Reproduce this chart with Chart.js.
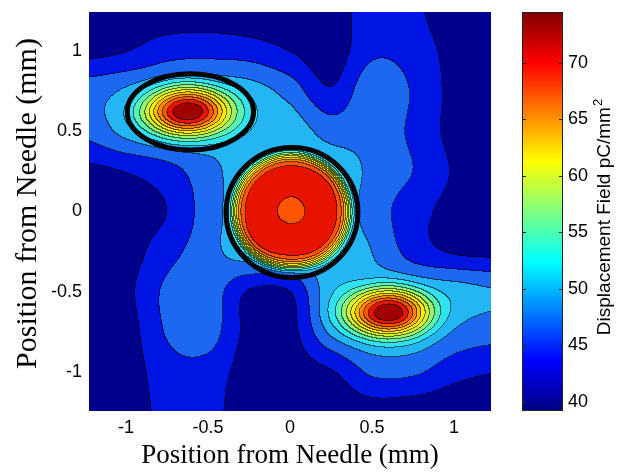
<!DOCTYPE html>
<html>
<head>
<meta charset="utf-8">
<script src="https://cdn.jsdelivr.net/npm/chart.js@4.4.1/dist/chart.umd.min.js"></script>
<style>
  html, body { margin: 0; padding: 0; background: #ffffff; }
  #wrap { position: relative; width: 620px; height: 474px; }
</style>
</head>
<body>
<div id="wrap"><canvas id="field" width="620" height="474"></canvas></div>
<script>
// ---- axis ticks ----
const xTicks = [-1, -0.5, 0, 0.5, 1];
const yTicks = [-1, -0.5, 0, 0.5, 1];
const cbTicks = [40, 45, 50, 55, 60, 65, 70];

// ---- field range on the colour bar (pC/mm^2) ----
const fieldMin = 39.2;
const fieldMax = 74.5;

// ---- contour levels and the fill colour of each band (lowest band first) ----
const levels = [42.5, 45, 47.5, 50, 52.5, 55, 57.5, 60, 62.5, 65, 67.5, 70, 72.5];
const bandColors = [
  '#00008c', '#0014e4', '#1c68f0', '#24b6f4', '#30e2f0', '#58f2b4', '#98f270',
  '#d0f032', '#fcec00', '#ffbc00', '#ff8400', '#ff5400', '#e81400', '#a00000'
];

// ---- background field sampled every 0.25 mm (rows from top to bottom) ----
const gridX = [-1.25, -1, -0.75, -0.5, -0.25, 0, 0.25, 0.5, 0.75, 1, 1.25];
const gridY = [1.25, 1, 0.75, 0.5, 0.25, 0, -0.25, -0.5, -0.75, -1, -1.25];
const background = [
  [40.3, 40.4, 40.6, 40.7, 40.7, 40.8, 40.7, 44.0, 43.2, 40.6, 40.3],
  [41.6, 42.4, 44.0, 44.3, 43.8, 42.5, 41.0, 44.5, 44.0, 41.6, 40.8],
  [46.3, 47.2, 47.0, 47.0, 48.3, 46.5, 42.8, 46.8, 44.8, 41.8, 41.0],
  [45.6, 47.8, 48.0, 48.0, 49.0, 49.0, 46.5, 46.8, 44.5, 41.8, 41.2],
  [41.8, 42.6, 44.0, 46.5, 49.0, 49.0, 49.0, 47.0, 45.0, 42.3, 41.3],
  [40.8, 41.3, 42.5, 46.2, 49.0, 49.0, 49.0, 46.5, 43.5, 41.8, 41.3],
  [40.8, 41.3, 44.0, 46.5, 49.0, 49.0, 49.0, 47.5, 44.0, 42.2, 41.8],
  [40.8, 41.8, 45.5, 46.5, 42.3, 42.5, 48.5, 48.0, 48.0, 48.5, 47.7],
  [40.8, 41.3, 45.2, 46.2, 41.8, 41.6, 47.2, 48.5, 48.5, 46.8, 46.0],
  [40.8, 41.0, 44.0, 44.0, 41.3, 41.3, 42.3, 45.5, 45.5, 43.5, 42.6],
  [40.3, 40.6, 43.5, 43.5, 40.8, 40.6, 40.6, 41.3, 41.0, 40.6, 40.3]
];

// ---- peaks at the needles: centre (mm), height above background, radii, sharpness ----
const peakX     = [-0.62, 0.01, 0.60];
const peakY     = [0.625, 0.0, -0.63];
const peakAmp   = [27.0, 22.8, 26.2];
const peakRx    = [0.255, 0.356, 0.245];
const peakRy    = [0.153, 0.356, 0.147];
const peakPower = [2.3, 11, 2.3];

// ---- dip in the middle of the central peak ----
const dipX = [0.01];
const dipY = [0.0];
const dipDepth = [2.8];
const dipWidth = [0.095];

// ---- needle outlines drawn as heavy rings (centre and semi-axes, mm) ----
const ringX  = [-0.607, 0.012];
const ringY  = [0.622, -0.006];
const ringRx = [0.385, 0.402];
const ringRy = [0.238, 0.406];

// ---------------------------------------------------------------------------
function catmull(p0, p1, p2, p3, t) {
  return 0.5 * ((2 * p1) + (-p0 + p2) * t + (2 * p0 - 5 * p1 + 4 * p2 - p3) * t * t +
    (-p0 + 3 * p1 - 3 * p2 + p3) * t * t * t);
}

function backgroundAt(x, y) {
  const n = gridX.length, m = gridY.length;
  const sx = gridX[1] - gridX[0], sy = gridY[0] - gridY[1];
  const fx = (x - gridX[0]) / sx, fy = (gridY[0] - y) / sy;
  const i = Math.max(0, Math.min(n - 2, Math.floor(fx)));
  const j = Math.max(0, Math.min(m - 2, Math.floor(fy)));
  const tx = fx - i, ty = fy - j;
  const g = (r, c) => background[Math.max(0, Math.min(m - 1, r))][Math.max(0, Math.min(n - 1, c))];
  const rows = [];
  for (let k = -1; k <= 2; k++) {
    rows.push(catmull(g(j + k, i - 1), g(j + k, i), g(j + k, i + 1), g(j + k, i + 2), tx));
  }
  return catmull(rows[0], rows[1], rows[2], rows[3], ty);
}

function fieldAt(x, y) {
  let v = backgroundAt(x, y);
  for (let k = 0; k < peakX.length; k++) {
    const dx = (x - peakX[k]) / peakRx[k], dy = (y - peakY[k]) / peakRy[k];
    const r2 = dx * dx + dy * dy;
    v += peakAmp[k] * Math.exp(-Math.pow(r2, peakPower[k] / 2));
  }
  for (let k = 0; k < dipX.length; k++) {
    const dx = x - dipX[k], dy = y - dipY[k];
    v -= dipDepth[k] * Math.exp(-(dx * dx + dy * dy) / (2 * dipWidth[k] * dipWidth[k]));
  }
  return v;
}

function bandOf(v) {
  let b = 0;
  while (b < levels.length && v >= levels[b]) b++;
  return b;
}

function hexToRgb(h) {
  return [parseInt(h.slice(1, 3), 16), parseInt(h.slice(3, 5), 16), parseInt(h.slice(5, 7), 16)];
}
const bandRgb = bandColors.map(hexToRgb);

function jet(t) {
  const c = v => Math.max(0, Math.min(1, v));
  const r = c(Math.min(4 * t - 1.5, -4 * t + 4.5));
  const g = c(Math.min(4 * t - 0.5, -4 * t + 3.5));
  const b = c(Math.min(4 * t + 0.5, -4 * t + 2.5));
  return `rgb(${Math.round(r * 255)},${Math.round(g * 255)},${Math.round(b * 255)})`;
}

// filled contour bands with thin level lines, then the needle rings
const contourPlugin = {
  id: 'contourFill',
  beforeDatasetsDraw(chart) {
    const { ctx, chartArea: a, scales: { x, y } } = chart;
    const left = Math.round(a.left), top = Math.round(a.top);
    const w = Math.round(a.right) - left, h = Math.round(a.bottom) - top;
    const bands = new Int16Array(w * h);
    const xs = new Float64Array(w);
    for (let i = 0; i < w; i++) xs[i] = x.getValueForPixel(left + i + 0.5);
    for (let j = 0; j < h; j++) {
      const vy = y.getValueForPixel(top + j + 0.5);
      for (let i = 0; i < w; i++) bands[j * w + i] = bandOf(fieldAt(xs[i], vy));
    }
    const off = document.createElement('canvas');
    off.width = w; off.height = h;
    const octx = off.getContext('2d');
    const img = octx.createImageData(w, h);
    const shade = 0.42;
    for (let j = 0; j < h; j++) {
      for (let i = 0; i < w; i++) {
        const k = j * w + i, b = bands[k];
        const rgb = bandRgb[b];
        const edge = (i < w - 1 && bands[k + 1] !== b) || (j < h - 1 && bands[k + w] !== b);
        const f = edge ? shade : 1;
        img.data[k * 4] = rgb[0] * f; img.data[k * 4 + 1] = rgb[1] * f; img.data[k * 4 + 2] = rgb[2] * f;
        img.data[k * 4 + 3] = 255;
      }
    }
    octx.putImageData(img, 0, 0);
    ctx.save();
    ctx.drawImage(off, left, top);
    ctx.lineWidth = 5;
    ctx.strokeStyle = '#000000';
    for (let k = 0; k < ringX.length; k++) {
      const cx = x.getPixelForValue(ringX[k]), cy = y.getPixelForValue(ringY[k]);
      const rx = Math.abs(x.getPixelForValue(ringX[k] + ringRx[k]) - cx);
      const ry = Math.abs(y.getPixelForValue(ringY[k] + ringRy[k]) - cy);
      ctx.beginPath();
      ctx.ellipse(cx, cy, rx, ry, 0, 0, Math.PI * 2);
      ctx.stroke();
    }
    ctx.restore();
  }
};

// colour bar drawn against its own value axis, plus the rotated axis labels
const colorBarPlugin = {
  id: 'colorBar',
  afterDraw(chart) {
    const { ctx, chartArea: a, scales: { cb } } = chart;
    const x0 = a.right + 31, barW = 41;
    const yTop = cb.getPixelForValue(fieldMax), yBot = cb.getPixelForValue(fieldMin);
    ctx.save();
    for (let py = Math.floor(yTop); py < Math.ceil(yBot); py++) {
      const v = cb.getValueForPixel(py + 0.5);
      ctx.fillStyle = jet((v - fieldMin) / (fieldMax - fieldMin));
      ctx.fillRect(x0, py, barW, 1);
    }
    ctx.strokeStyle = '#222222';
    ctx.lineWidth = 1;
    ctx.strokeRect(x0 + 0.5, Math.floor(yTop) + 0.5, barW - 1, Math.ceil(yBot) - Math.floor(yTop) - 1);
    for (const v of cbTicks) {
      const py = Math.round(cb.getPixelForValue(v)) + 0.5;
      ctx.beginPath();
      ctx.moveTo(x0, py); ctx.lineTo(x0 + 4, py);
      ctx.moveTo(x0 + barW - 4, py); ctx.lineTo(x0 + barW, py);
      ctx.stroke();
    }
    ctx.restore();

    // colour bar label, read from bottom to top
    ctx.save();
    const main = 'Displacement Field pC/mm';
    ctx.fillStyle = '#000000';
    ctx.translate(610, (yTop + yBot) / 2 + 6);
    ctx.rotate(-Math.PI / 2);
    ctx.font = '19px "Liberation Sans", Arial, sans-serif';
    const wMain = ctx.measureText(main).width;
    ctx.font = '13px "Liberation Sans", Arial, sans-serif';
    const wSup = ctx.measureText('2').width;
    const start = -(wMain + wSup) / 2;
    ctx.font = '19px "Liberation Sans", Arial, sans-serif';
    ctx.textBaseline = 'alphabetic';
    ctx.textAlign = 'left';
    ctx.fillText(main, start, 0);
    ctx.font = '13px "Liberation Sans", Arial, sans-serif';
    ctx.fillText('2', start + wMain + 1, -8);
    ctx.restore();

    // vertical axis title
    ctx.save();
    ctx.fillStyle = '#000000';
    ctx.translate(36, (a.top + a.bottom) / 2 - 8);
    ctx.rotate(-Math.PI / 2);
    ctx.font = '30px "Liberation Serif", "Times New Roman", serif';
    ctx.textAlign = 'center';
    ctx.textBaseline = 'alphabetic';
    ctx.fillText('Position from Needle (mm)', 0, 0);
    ctx.restore();
  }
};

const tickFont = { family: '"Liberation Sans", Arial, sans-serif', size: 18 };
const titleFont = { family: '"Liberation Serif", "Times New Roman", serif', size: 27 };

new Chart(document.getElementById('field'), {
  type: 'scatter',
  data: { datasets: [] },
  options: {
    responsive: false,
    animation: false,
    events: [],
    layout: { padding: { top: 12, left: 0, right: 0, bottom: 0 } },
    plugins: { legend: { display: false }, tooltip: { enabled: false } },
    scales: {
      x: {
        type: 'linear', position: 'bottom', min: -1.225, max: 1.225,
        grid: { display: false, drawTicks: true, tickLength: 5 }, border: { display: false },
        afterBuildTicks: s => { s.ticks = xTicks.map(v => ({ value: v })); },
        afterFit: s => { s.height = 63; },
        ticks: { font: tickFont, color: '#000', padding: 1, maxRotation: 0, callback: v => String(v) },
        title: { display: true, text: 'Position from Needle (mm)', font: titleFont, color: '#000', padding: { top: 0, bottom: 2 } }
      },
      y: {
        type: 'linear', position: 'left', min: -1.245, max: 1.245,
        grid: { display: false, drawTicks: true, tickLength: 6 }, border: { display: false },
        afterBuildTicks: s => { s.ticks = yTicks.map(v => ({ value: v })); },
        afterFit: s => { s.width = 89; },
        ticks: { font: tickFont, color: '#000', padding: 1, callback: v => String(v) }
      },
      cb: {
        type: 'linear', position: 'right', min: fieldMin, max: fieldMax,
        grid: { display: false, drawTicks: true, tickLength: 76 }, border: { display: false },
        afterBuildTicks: s => { s.ticks = cbTicks.map(v => ({ value: v })); },
        afterFit: s => { s.width = 129; },
        ticks: { font: tickFont, color: '#000', padding: 1, callback: v => String(v) }
      }
    }
  },
  plugins: [contourPlugin, colorBarPlugin]
});
</script>
</body>
</html>
